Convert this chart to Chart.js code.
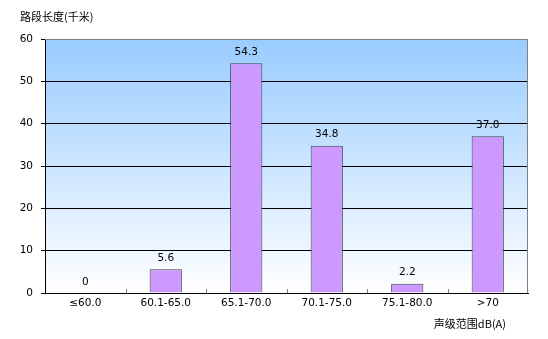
<!DOCTYPE html>
<html>
<head>
<meta charset="utf-8">
<script src="https://cdn.jsdelivr.net/npm/chart.js@4"></script>
<style>
  html, body { margin: 0; padding: 0; background: #fff; }
  #wrap { width: 548px; height: 339px; }
</style>
</head>
<body>
<div id="wrap"><canvas id="noiseChart" width="548" height="339"></canvas></div>
<script>
const categories = ['≤60.0', '60.1-65.0', '65.1-70.0', '70.1-75.0', '75.1-80.0', '>70'];
const lengths = [0, 5.6, 54.3, 34.8, 2.2, 37.0];
const valueLabels = ['0', '5.6', '54.3', '34.8', '2.2', '37.0'];
const yTicks = [0, 10, 20, 30, 40, 50, 60];

const numFont = '10.5px "DejaVu Sans", "Liberation Sans", sans-serif';
const cjkFont = '11px "Noto Sans CJK SC", sans-serif';

// fond bleu dégradé + bordures + libellés
const decorPlugin = {
    id: 'decor',
    beforeDraw(chart) {
        const { ctx, chartArea: a } = chart;
        const g = ctx.createLinearGradient(0, a.top, 0, a.bottom);
        g.addColorStop(0, '#99ccff');
        g.addColorStop(1, '#ffffff');
        ctx.save();
        ctx.fillStyle = g;
        ctx.fillRect(a.left, a.top, a.right - a.left, a.bottom - a.top);
        ctx.restore();
    },
    afterDraw(chart) {
        const { ctx, chartArea: a } = chart;
        const x = chart.scales.x, y = chart.scales.y;
        ctx.save();
        // bord haut et droit gris
        ctx.strokeStyle = '#808080';
        ctx.lineWidth = 1;
        ctx.beginPath();
        ctx.moveTo(a.left, a.top + 0.5);
        ctx.lineTo(a.right - 0.5, a.top + 0.5);
        ctx.lineTo(a.right - 0.5, a.bottom);
        ctx.stroke();
        // petits traits sur l'axe x
        const step = (a.right - a.left) / categories.length;
        for (let i = 1; i < categories.length; i++) {
            const px = Math.round(a.left + step * i) + 0.5;
            ctx.beginPath();
            ctx.moveTo(px, a.bottom);
            ctx.lineTo(px, a.bottom - 4);
            ctx.stroke();
        }
        // valeurs au-dessus des barres
        ctx.fillStyle = '#000';
        ctx.font = numFont;
        ctx.textAlign = 'center';
        ctx.textBaseline = 'middle';
        lengths.forEach((v, i) => {
            ctx.fillText(valueLabels[i], x.getPixelForValue(i), y.getPixelForValue(v) - 11);
        });
        // titres des axes
        ctx.font = cjkFont;
        ctx.textAlign = 'left';
        ctx.fillText('路段长度(千米)', 20, 17);
        ctx.textAlign = 'right';
        ctx.fillText('声级范围dB(A)', 506, 324);
        ctx.restore();
    }
};

const chart = new Chart(document.getElementById('noiseChart').getContext('2d'), {
    type: 'bar',
    data: {
        labels: categories,
        datasets: [{
            data: lengths,
            backgroundColor: '#cc99ff',
            borderColor: '#404050',
            borderWidth: 1,
            barPercentage: 0.4,
            categoryPercentage: 1
        }]
    },
    options: {
        responsive: false,
        animation: false,
        layout: { padding: { left: 0, right: 20, top: 39, bottom: 0 } },
        plugins: { legend: { display: false }, tooltip: { enabled: false } },
        scales: {
            x: {
                grid: { display: false, drawTicks: false },
                border: { color: '#000', width: 1 },
                ticks: { color: '#000', font: { size: 10.5, family: '"DejaVu Sans", sans-serif' }, padding: 4, maxRotation: 0 },
                afterFit: s => { s.height = 46; }
            },
            y: {
                min: 0,
                max: 60,
                afterBuildTicks: s => { s.ticks = yTicks.map(v => ({ value: v })); },
                grid: {
                    color: ctx => ctx.tick && ctx.tick.value === 60 ? 'rgba(0,0,0,0)' : '#000',
                    tickColor: '#000',
                    tickLength: 4
                },
                border: { color: '#000', width: 1 },
                ticks: { color: '#000', font: { size: 10.5, family: '"DejaVu Sans", sans-serif' }, padding: 8 },
                afterFit: s => { s.width = 45; }
            }
        }
    },
    plugins: [decorPlugin]
});
</script>
</body>
</html>
